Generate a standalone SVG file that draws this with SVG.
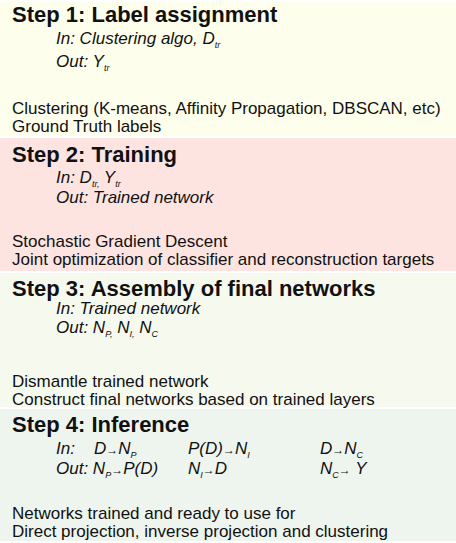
<svg xmlns="http://www.w3.org/2000/svg" width="456" height="543" viewBox="0 0 456 543">
<style>
text{font-family:"Liberation Sans",Arial,sans-serif;fill:#111}
.t{font-size:22px;font-weight:bold}
.i{font-size:17px;font-style:italic}
.b{font-size:17px}
.s{font-size:9px;font-style:italic}
.a{font-size:12px;font-style:normal}
</style>
<rect width="456" height="543" fill="#ffffff"/>
<g id="step1">
<rect x="0" y="2" width="456" height="134" fill="#fefeec"/>
<text class="t" x="12" y="22">Step 1: Label assignment</text>
<text class="i" x="56" y="44">In: Clustering algo, D<tspan class="s" dy="4">tr</tspan></text>
<text class="i" x="56" y="67">Out: Y<tspan class="s" dy="4">tr</tspan></text>
<text class="b" x="12" y="114">Clustering (K-means, Affinity Propagation, DBSCAN, etc)</text>
<text class="b" x="12" y="132">Ground Truth labels</text>
</g>
<g id="step2">
<rect x="0" y="138" width="456" height="133" fill="#fde4e0"/>
<text class="t" x="12" y="162">Step 2: Training</text>
<text class="i" x="56" y="183">In: D<tspan class="s" dy="4">tr,</tspan><tspan dy="-4"> Y</tspan><tspan class="s" dy="4">tr</tspan></text>
<text class="i" x="56" y="203">Out: Trained network</text>
<text class="b" x="12" y="247">Stochastic Gradient Descent</text>
<text class="b" x="12" y="265">Joint optimization of classifier and reconstruction targets</text>
</g>
<g id="step3">
<rect x="0" y="273" width="456" height="134" fill="#f6f9ee"/>
<text class="t" x="12" y="296">Step 3: Assembly of final networks</text>
<text class="i" x="56" y="314">In: Trained network</text>
<text class="i" x="56" y="333">Out: N<tspan class="s" dy="4">P,</tspan><tspan dy="-4"> N</tspan><tspan class="s" dy="4">I,</tspan><tspan dy="-4"> N</tspan><tspan class="s" dy="4">C</tspan></text>
<text class="b" x="12" y="387">Dismantle trained network</text>
<text class="b" x="12" y="405">Construct final networks based on trained layers</text>
</g>
<g id="step4">
<rect x="0" y="409" width="456" height="132" fill="#eef5ee"/>
<text class="t" x="12" y="432">Step 4: Inference</text>
<text class="i" x="56" y="454">In:</text>
<text class="i" x="94" y="454">D<tspan class="a">→</tspan>N<tspan class="s" dy="4">P</tspan></text>
<text class="i" x="188" y="454">P(D)<tspan class="a">→</tspan>N<tspan class="s" dy="4">I</tspan></text>
<text class="i" x="320" y="454">D<tspan class="a">→</tspan>N<tspan class="s" dy="4">C</tspan></text>
<text class="i" x="56" y="474">Out: N<tspan class="s" dy="4">P</tspan><tspan class="a" dy="-4">→</tspan>P(D)</text>
<text class="i" x="188" y="474">N<tspan class="s" dy="4">I</tspan><tspan class="a" dy="-4">→</tspan>D</text>
<text class="i" x="320" y="474">N<tspan class="s" dy="4">C</tspan><tspan class="a" dy="-4">→</tspan> Y</text>
<text class="b" x="12" y="519">Networks trained and ready to use for</text>
<text class="b" x="12" y="537">Direct projection, inverse projection and clustering</text>
</g>
</svg>
